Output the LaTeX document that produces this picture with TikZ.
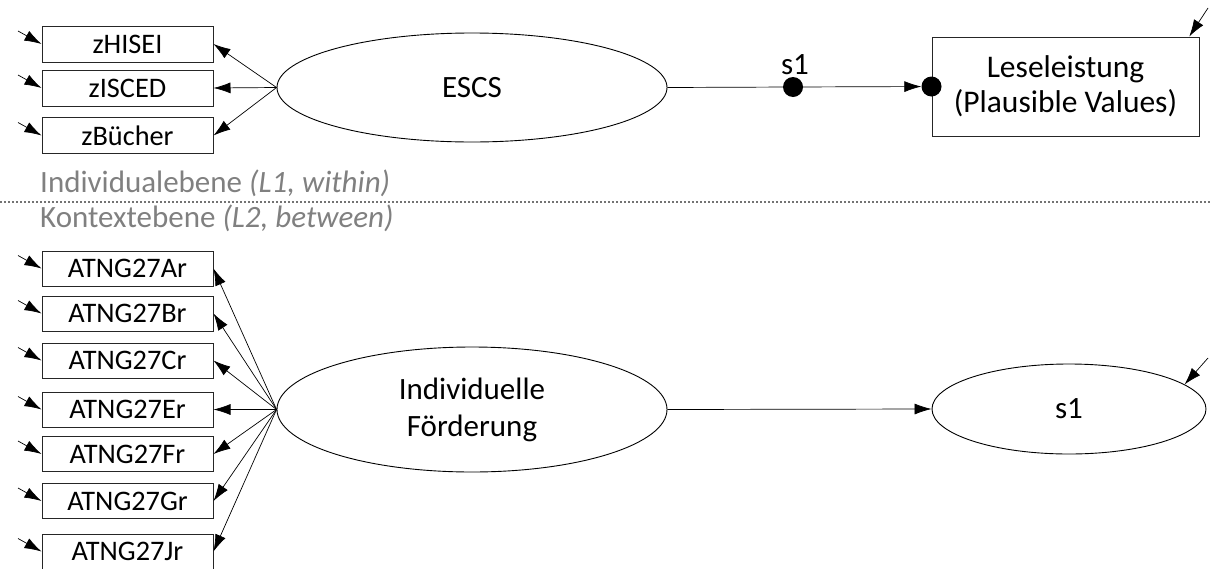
\documentclass[tikz,border=0pt]{standalone}
\usepackage{fontspec}
\setmainfont{Carlito}
\usetikzlibrary{shapes.geometric,arrows.meta}
\begin{document}
\begin{tikzpicture}[x=1pt,y=-1pt,
  box/.style={draw=black!85,line width=1pt,rectangle,inner sep=0pt,minimum width=171pt,minimum height=36pt,font=\fontsize{28.3}{34}\selectfont},
  lat/.style={draw=black,line width=0.9pt,ellipse,inner sep=0pt,font=\fontsize{31}{37}\selectfont,align=center},
  arr/.style={line width=0.7pt,-{Latex[length=17pt,width=11pt]}},
  plain/.style={line width=0.7pt},
  dot/.style={circle,fill=black,inner sep=0pt,minimum size=20pt},
  lvl/.style={text=black!50,font=\fontsize{31}{37}\selectfont,anchor=base west,inner sep=0pt},
]
\useasboundingbox (0,0) rectangle (1210,568);
% --- level 1
\node[box] (hisei) at (127.5,44) {zHISEI};
\node[box] (isced) at (127.5,88) {zISCED};
\node[box] (buech) at (127.5,135.5) {zBücher};
\node[lat,minimum width=390pt,minimum height=109pt] (escs) at (472,87.5) {ESCS};
\node[box,minimum width=267pt,minimum height=99pt,font=\fontsize{31.5}{35}\selectfont,align=center] (lese) at (1065.5,86.5) {Leseleistung\\(Plausible Values)};
\node[dot] (d1) at (793,87) {};
\node[dot] (d2) at (lese.west) {};
\node[font=\fontsize{31}{37}\selectfont,anchor=base,inner sep=0pt] (s1lab) at (795,74) {s1};
\draw[plain] (escs.east) -- (d1);
\draw[arr] (d1) -- (d2);
\draw[arr] (escs.west) -- (hisei.east);
\draw[arr] (escs.west) -- (isced.east);
\draw[arr] (escs.west) -- (buech.east);
\coordinate (ehisei) at (18,31);
\coordinate (eisced) at (18,75);
\coordinate (ebuech) at (18,122.5);
\draw[arr] (ehisei) -- (hisei.west);
\draw[arr] (eisced) -- (isced.west);
\draw[arr] (ebuech) -- (buech.west);
\coordinate (elese) at (1208,8);
\draw[arr] (elese) -- (lese.22);
% --- separator
\node[lvl] (l1) at (40,192) {Individualebene \textit{(L1, within)}};
\node[lvl] (l2) at (40,227) {Kontextebene \textit{(L2, between)}};
\coordinate (sepL) at (0,202);
\coordinate (sepR) at (1210,202);
\draw[black!55,line width=2.2pt,dash pattern=on 2pt off 2pt] (sepL) -- (sepR);
% --- level 2
\node[box,minimum height=35pt] (ar) at (127.5,268.5) {ATNG27Ar};
\node[box,minimum height=35pt] (br) at (127.5,313.5) {ATNG27Br};
\node[box,minimum height=35pt] (cr) at (127.5,360.5) {ATNG27Cr};
\node[box,minimum height=35pt] (er) at (127.5,409.5) {ATNG27Er};
\node[box,minimum height=35pt] (fr) at (127.5,454) {ATNG27Fr};
\node[box,minimum height=35pt] (gr) at (127.5,501) {ATNG27Gr};
\node[box,minimum height=35pt] (jr) at (127.5,551.5) {ATNG27Jr};
\node[lat,minimum width=390pt,minimum height=125pt] (ind) at (472,409.5) {Individuelle\\Förderung};
\node[lat,minimum width=274pt,minimum height=90pt] (s1b) at (1069,409) {s1};
\draw[arr] (ind.east) -- (s1b.west);
\foreach \b in {ar,br,cr,er,fr,gr,jr}{
  \draw[arr] (ind.west) -- (\b.east);
}
\coordinate (ear) at (18,255.5);
\coordinate (ebr) at (18,300.5);
\coordinate (ecr) at (18,347.5);
\coordinate (eer) at (18,396.5);
\coordinate (efr) at (18,441);
\coordinate (egr) at (18,488);
\coordinate (ejr) at (18,538.5);
\draw[arr] (ear) -- (ar.west);
\draw[arr] (ebr) -- (br.west);
\draw[arr] (ecr) -- (cr.west);
\draw[arr] (eer) -- (er.west);
\draw[arr] (efr) -- (fr.west);
\draw[arr] (egr) -- (gr.west);
\draw[arr] (ejr) -- (jr.west);
\coordinate (es1) at (1208,358);
\draw[arr] (es1) -- (s1b.12);
\end{tikzpicture}
\end{document}
